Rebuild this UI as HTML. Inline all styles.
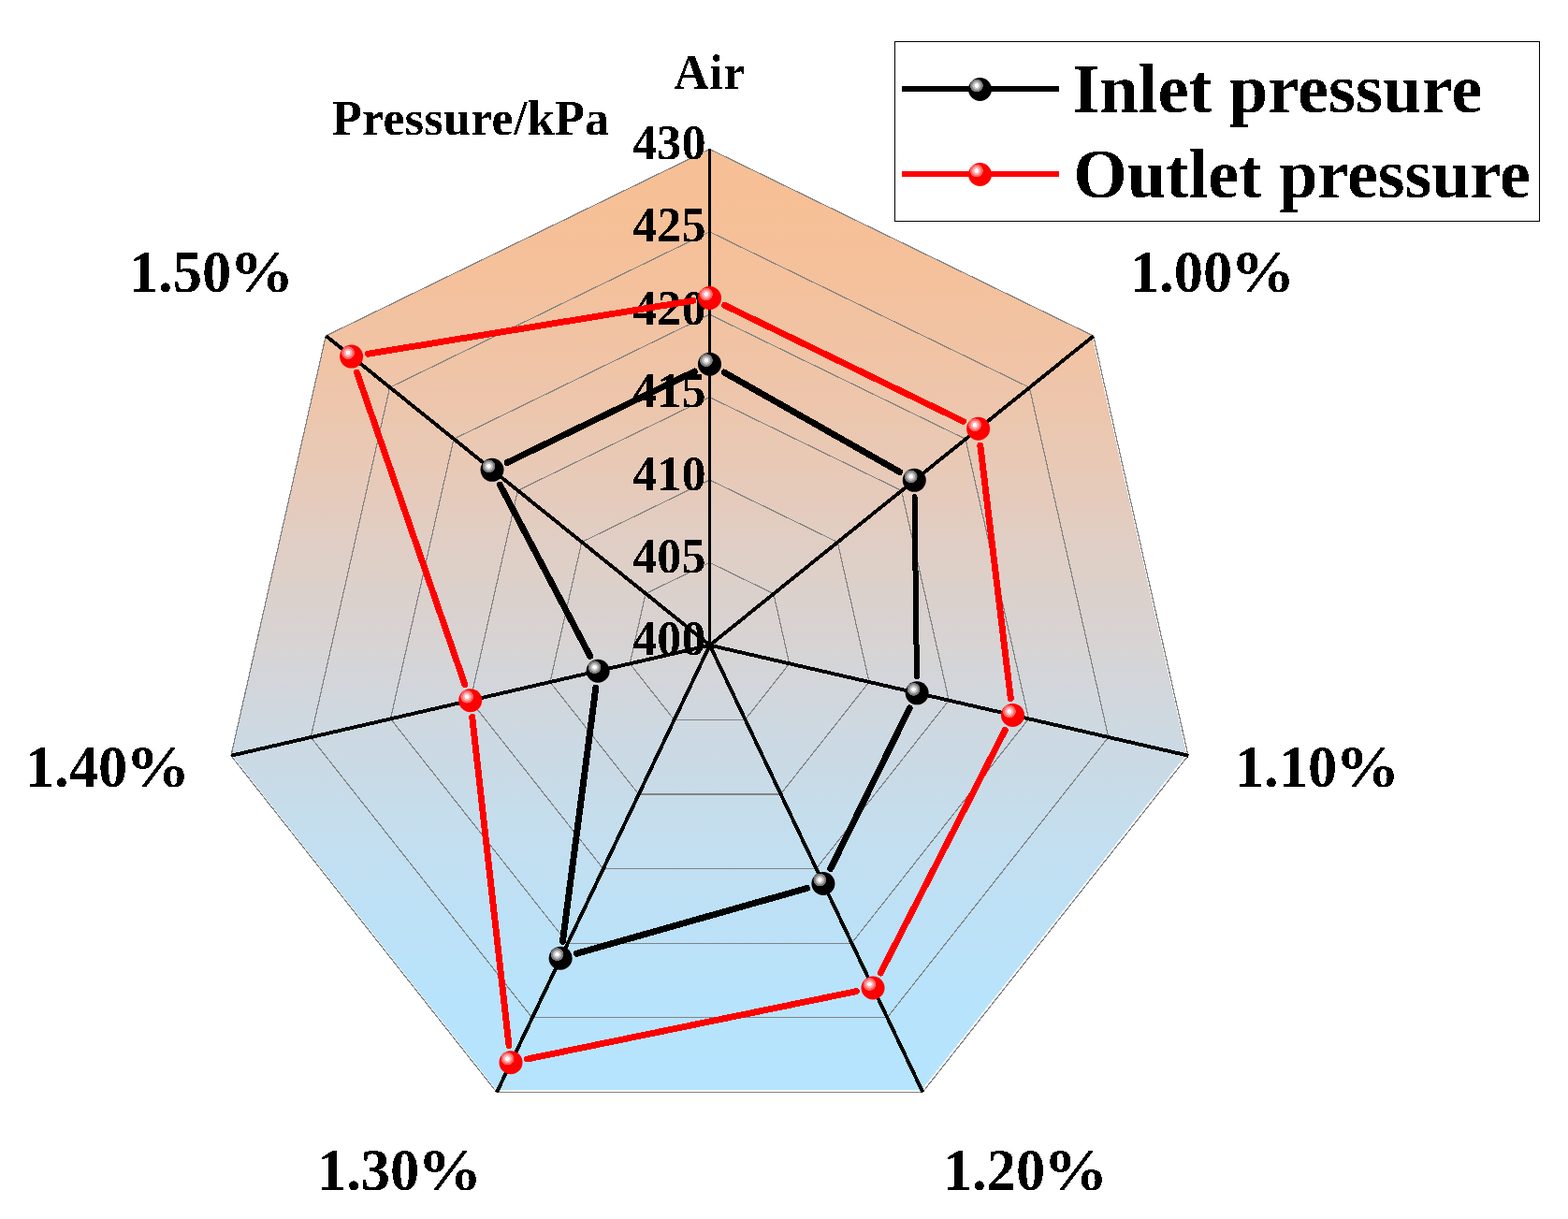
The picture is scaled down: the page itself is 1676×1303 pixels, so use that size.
<!DOCTYPE html>
<html lang="en"><head><meta charset="utf-8"><title>Radar chart: inlet and outlet pressure</title>
<style>html,body{margin:0;padding:0;background:#fff;overflow:hidden}body{width:1676px;height:1303px}svg{display:block}text{font-family:"Liberation Serif","DejaVu Serif",serif;font-weight:bold;fill:#000}</style>
</head><body>
<svg width="1676" height="1303" viewBox="0 0 1676 1303" role="img" aria-label="Radar chart of inlet and outlet pressure in kPa">
<defs>
<linearGradient id="bg" gradientUnits="userSpaceOnUse" x1="0" y1="159.4" x2="0" y2="1167">
<stop offset="0" stop-color="#f7bf95"/>
<stop offset="0.03" stop-color="#f7bf95"/>
<stop offset="0.05" stop-color="#f7bf96"/>
<stop offset="0.07" stop-color="#f6c097"/>
<stop offset="0.1" stop-color="#f5c099"/>
<stop offset="0.12" stop-color="#f5c19b"/>
<stop offset="0.15" stop-color="#f4c19d"/>
<stop offset="0.17" stop-color="#f2c2a0"/>
<stop offset="0.2" stop-color="#f1c3a3"/>
<stop offset="0.23" stop-color="#f0c4a6"/>
<stop offset="0.25" stop-color="#eec5aa"/>
<stop offset="0.28" stop-color="#ecc6ad"/>
<stop offset="0.3" stop-color="#eac8b1"/>
<stop offset="0.33" stop-color="#e9c9b5"/>
<stop offset="0.35" stop-color="#e7cab9"/>
<stop offset="0.38" stop-color="#e4cbbd"/>
<stop offset="0.4" stop-color="#e2cdc1"/>
<stop offset="0.42" stop-color="#e0cec5"/>
<stop offset="0.45" stop-color="#ded0c8"/>
<stop offset="0.47" stop-color="#dbd1cc"/>
<stop offset="0.5" stop-color="#d9d2d0"/>
<stop offset="0.53" stop-color="#d7d4d4"/>
<stop offset="0.55" stop-color="#d4d5d8"/>
<stop offset="0.57" stop-color="#d2d6db"/>
<stop offset="0.6" stop-color="#cfd8df"/>
<stop offset="0.62" stop-color="#cdd9e2"/>
<stop offset="0.65" stop-color="#cadae5"/>
<stop offset="0.68" stop-color="#c8dbe8"/>
<stop offset="0.7" stop-color="#c6ddeb"/>
<stop offset="0.72" stop-color="#c4deee"/>
<stop offset="0.75" stop-color="#c2dff1"/>
<stop offset="0.78" stop-color="#c0e0f3"/>
<stop offset="0.8" stop-color="#bee0f5"/>
<stop offset="0.82" stop-color="#bce1f7"/>
<stop offset="0.85" stop-color="#bbe2f9"/>
<stop offset="0.88" stop-color="#b9e3fa"/>
<stop offset="0.9" stop-color="#b8e3fc"/>
<stop offset="0.93" stop-color="#b7e3fd"/>
<stop offset="0.95" stop-color="#b7e4fd"/>
<stop offset="0.97" stop-color="#b6e4fe"/>
<stop offset="1" stop-color="#b6e4fe"/>
</linearGradient>
<radialGradient id="gr" gradientUnits="objectBoundingBox" cx="0.356" cy="0.34" r="0.28" fx="0.356" fy="0.34">
<stop offset="0" stop-color="#ffffff"/>
<stop offset="0.3" stop-color="#ffffff"/>
<stop offset="0.36" stop-color="#ffb8b8"/>
<stop offset="0.62" stop-color="#ffa8a8"/>
<stop offset="0.68" stop-color="#ff7070"/>
<stop offset="0.95" stop-color="#ff6060"/>
<stop offset="1" stop-color="#ff0000"/>
</radialGradient>
<radialGradient id="gk" gradientUnits="objectBoundingBox" cx="0.356" cy="0.34" r="0.28" fx="0.356" fy="0.34">
<stop offset="0" stop-color="#ffffff"/>
<stop offset="0.3" stop-color="#ffffff"/>
<stop offset="0.36" stop-color="#c8c8c8"/>
<stop offset="0.62" stop-color="#b8b8b8"/>
<stop offset="0.68" stop-color="#888888"/>
<stop offset="0.95" stop-color="#787878"/>
<stop offset="1" stop-color="#000000"/>
</radialGradient>
<filter id="crisp" x="-5%" y="-20%" width="110%" height="140%" color-interpolation-filters="sRGB"><feComponentTransfer><feFuncA type="discrete" tableValues="0 1"/></feComponentTransfer></filter>
</defs>
<rect width="1676" height="1303" fill="#fff"/>
<polygon points="757.8,159.53 1167.21,358.69 1268.32,806.21 985,1165.09 530.6,1165.09 247.28,806.21 348.39,358.69" fill="url(#bg)" shape-rendering="crispEdges"/>
<g fill="none" stroke="#828282" stroke-width="1.2" shape-rendering="crispEdges">
<polygon points="758.5,601.32 826.87,634.59 843.76,709.37 796.44,769.33 720.56,769.33 673.24,709.37 690.13,634.59"/>
<polygon points="758.5,512.93 895.24,579.49 929.01,729.03 834.39,848.96 682.61,848.96 587.99,729.03 621.76,579.49"/>
<polygon points="758.5,424.55 963.61,524.38 1014.27,748.7 872.33,928.59 644.67,928.59 502.73,748.7 553.39,524.38"/>
<polygon points="758.5,336.17 1031.98,469.28 1099.53,768.37 910.27,1008.22 606.73,1008.22 417.47,768.37 485.02,469.28"/>
<polygon points="758.5,247.78 1100.36,414.17 1184.79,788.04 948.22,1087.85 568.78,1087.85 332.21,788.04 416.64,414.17"/>
<polygon points="758.5,159.4 1168.73,359.06 1270.04,807.7 986.16,1167.48 530.84,1167.48 246.96,807.7 348.27,359.06"/>
</g>
<g font-size="52.08" filter="url(#crisp)">
<text x="676.3" y="170">430</text>
<text x="676.3" y="258.38">425</text>
<text x="676.3" y="346.77">420</text>
<text x="676.3" y="435.15">415</text>
<text x="676.3" y="523.53">410</text>
<text x="676.3" y="611.92">405</text>
<text x="676.3" y="700.3">400</text>
</g>
<g stroke="#000" stroke-width="3.9" shape-rendering="crispEdges">
<line x1="758.5" y1="689.7" x2="758.5" y2="159.4" stroke-width="3"/>
<line x1="758.7" y1="689.7" x2="1168.93" y2="359.06"/>
<line x1="758.7" y1="689.7" x2="1270.24" y2="807.7"/>
<line x1="758.7" y1="689.7" x2="986.36" y2="1167.48"/>
<line x1="758.7" y1="689.7" x2="531.04" y2="1167.48"/>
<line x1="758.7" y1="689.7" x2="247.16" y2="807.7"/>
<line x1="758.7" y1="689.7" x2="348.47" y2="359.06"/>
</g>
<g stroke="#000" stroke-width="6.9" stroke-linecap="round" shape-rendering="crispEdges">
<line x1="774.07" y1="398.03" x2="961.72" y2="504.53"/>
<line x1="977.51" y1="531.26" x2="979.94" y2="722.94" stroke-width="6"/>
<line x1="972.26" y1="756.89" x2="887.82" y2="928.46"/>
<line x1="862.7" y1="949.4" x2="616.36" y2="1019.26"/>
<line x1="601.45" y1="1006.4" x2="636.83" y2="734.98"/>
<line x1="630.8" y1="701.39" x2="534.37" y2="518.18"/>
<line x1="542.13" y1="494.51" x2="742.41" y2="397.03"/>
</g>
<g fill="url(#gk)">
<circle cx="758.5" cy="389.2" r="12.5"/>
<circle cx="977.29" cy="513.36" r="12.5"/>
<circle cx="980.17" cy="740.83" r="12.5"/>
<circle cx="879.92" cy="944.52" r="12.5"/>
<circle cx="599.14" cy="1024.15" r="12.5"/>
<circle cx="639.14" cy="717.23" r="12.5"/>
<circle cx="526.04" cy="502.34" r="12.5"/>
</g>
<g stroke="#ff0000" stroke-width="6.9" stroke-linecap="round" shape-rendering="crispEdges">
<line x1="774.59" y1="326.32" x2="1029.56" y2="450.42"/>
<line x1="1047.8" y1="476.03" x2="1080.34" y2="746.66"/>
<line x1="1074.31" y1="780.36" x2="941.2" y2="1040.07"/>
<line x1="915.51" y1="1059.61" x2="563.55" y2="1132.02"/>
<line x1="544.03" y1="1117.84" x2="504.72" y2="766.49"/>
<line x1="496.88" y1="731.78" x2="381.47" y2="398.02"/>
<line x1="393.29" y1="378.22" x2="740.83" y2="321.38"/>
</g>
<g fill="url(#gr)">
<circle cx="758.5" cy="318.49" r="12.5"/>
<circle cx="1045.66" cy="458.25" r="12.5"/>
<circle cx="1082.48" cy="764.44" r="12.5"/>
<circle cx="933.04" cy="1056" r="12.5"/>
<circle cx="546.02" cy="1135.63" r="12.5"/>
<circle cx="502.73" cy="748.7" r="12.5"/>
<circle cx="375.62" cy="381.11" r="12.5"/>
</g>
<rect x="956.5" y="44.5" width="689" height="192" fill="#fff" stroke="#000" stroke-width="1" shape-rendering="crispEdges"/>
<line x1="964" y1="95" x2="1132" y2="95" stroke="#000" stroke-width="6" stroke-linecap="butt" shape-rendering="crispEdges"/>
<circle cx="1047.5" cy="95.5" r="12.5" fill="url(#gk)"/>
<line x1="964" y1="186" x2="1132" y2="186" stroke="#ff0000" stroke-width="6" stroke-linecap="butt" shape-rendering="crispEdges"/>
<circle cx="1047.5" cy="186.5" r="12.5" fill="url(#gr)"/>
<text x="720.3" y="95.0" font-size="52.08" textLength="76.1" lengthAdjust="spacing" filter="url(#crisp)">Air</text>
<text x="355.0" y="144.1" font-size="52.08" textLength="296" lengthAdjust="spacing" filter="url(#crisp)">Pressure/kPa</text>
<text x="1207.8" y="311.8" font-size="62.5" filter="url(#crisp)">1.00<tspan dx="-2" textLength="69" lengthAdjust="spacingAndGlyphs">%</tspan></text>
<text x="1319.8" y="840.9" font-size="62.5" filter="url(#crisp)">1.10<tspan dx="-2" textLength="69" lengthAdjust="spacingAndGlyphs">%</tspan></text>
<text x="1007.8" y="1271.8" font-size="62.5" filter="url(#crisp)">1.20<tspan dx="-2" textLength="69" lengthAdjust="spacingAndGlyphs">%</tspan></text>
<text x="338.9" y="1271.8" font-size="62.5" filter="url(#crisp)">1.30<tspan dx="-2" textLength="69" lengthAdjust="spacingAndGlyphs">%</tspan></text>
<text x="26.8" y="840.9" font-size="62.5" filter="url(#crisp)">1.40<tspan dx="-2" textLength="69" lengthAdjust="spacingAndGlyphs">%</tspan></text>
<text x="137.8" y="311.8" font-size="62.5" filter="url(#crisp)">1.50<tspan dx="-2" textLength="69" lengthAdjust="spacingAndGlyphs">%</tspan></text>
<text x="1146.3" y="120.0" font-size="75" textLength="437.9" lengthAdjust="spacingAndGlyphs" filter="url(#crisp)">Inlet pressure</text>
<text x="1147.3" y="210.9" font-size="75" textLength="488.6" lengthAdjust="spacingAndGlyphs" filter="url(#crisp)">Outlet pressure</text>
</svg></body></html>
